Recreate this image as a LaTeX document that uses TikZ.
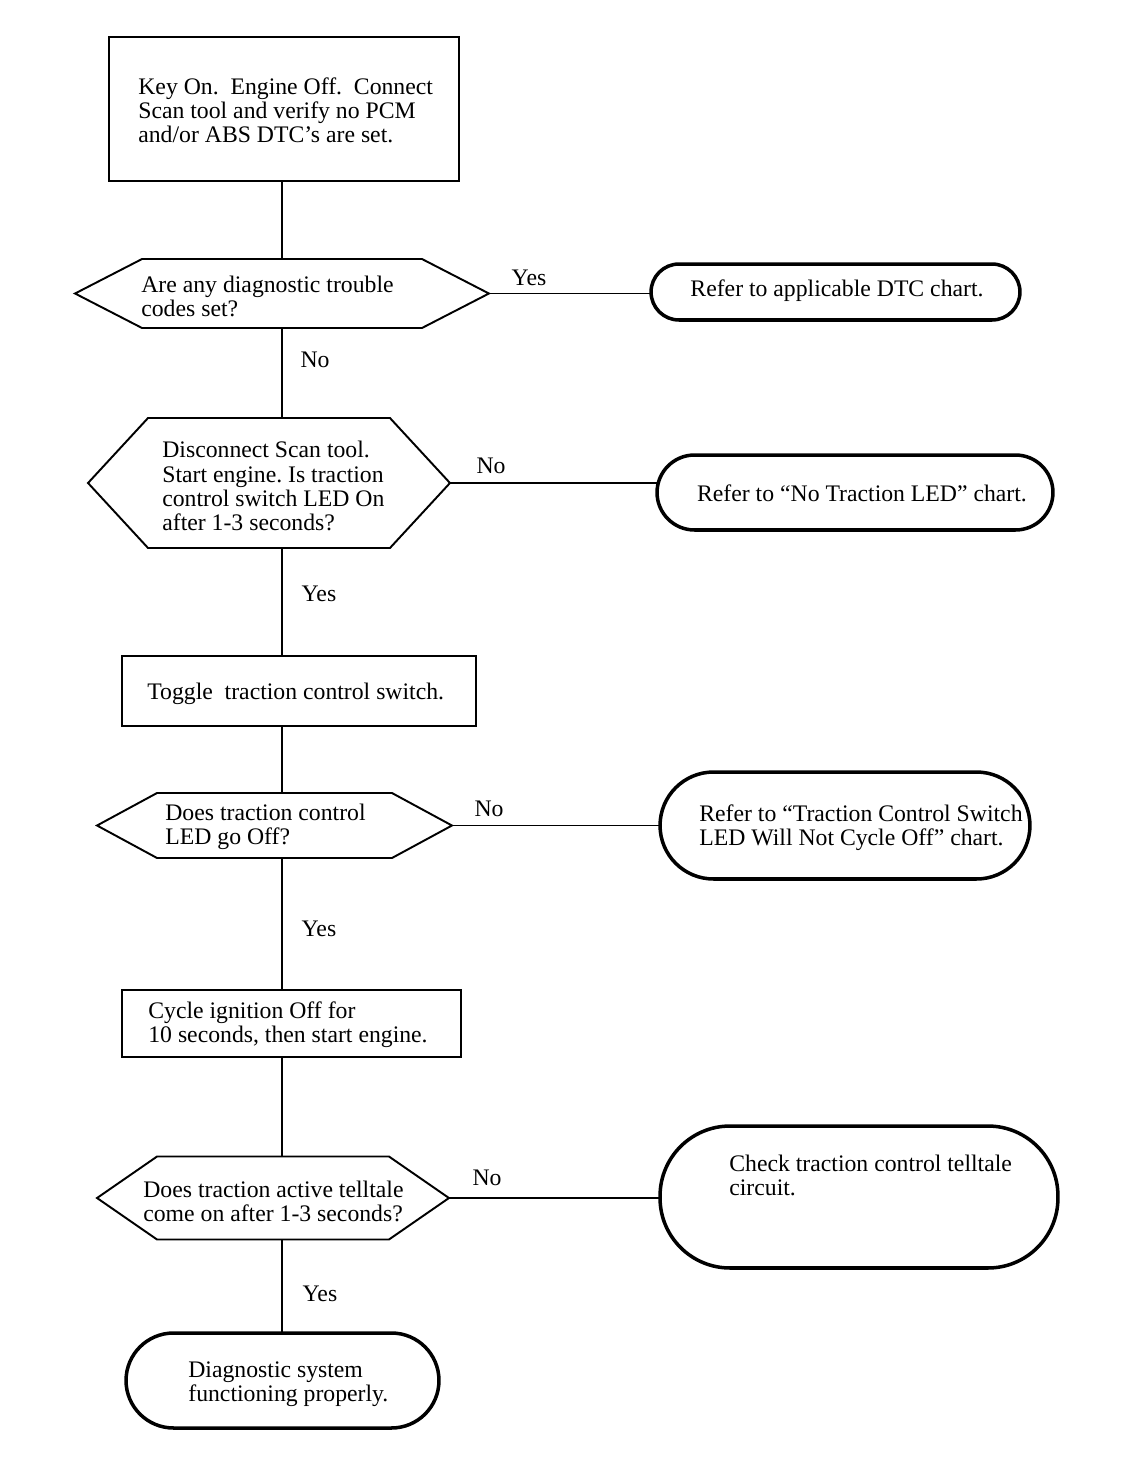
\documentclass[tikz,border=0pt]{standalone}
\usepackage{fontspec}
\setmainfont{Liberation Serif}
\newcommand\fs{\fontsize{13.5pt}{13.7pt}\selectfont\frenchspacing}
\newcommand\hexdraw[2]{\draw[hexline] ([xshift=#2]#1.north west) -- ([xshift=-#2]#1.north east) -- (#1.east) -- ([xshift=-#2]#1.south east) -- ([xshift=#2]#1.south west) -- (#1.west) -- cycle;}
\begin{document}
\begin{tikzpicture}[x=0.02cm,y=-0.02cm,
  proc/.style={draw, line width=1.2pt, inner sep=0pt, outer sep=0pt},
  term/.style={draw, line width=2pt, inner sep=0pt, outer sep=0pt},
  dec/.style={inner sep=0pt, outer sep=0pt},
  txt/.style={anchor=west, align=left, inner sep=0pt, font=\fs},
  ctxt/.style={align=center, inner sep=0pt, font=\fs},
  lbl/.style={inner sep=0pt, font=\fs},
  conn/.style={line width=0.9pt},
  hexline/.style={line width=1.1pt, line join=miter}]
\useasboundingbox (0,0) rectangle (1136,1458);
\coordinate (spine) at (282,0);

% process boxes
\node[proc, minimum width=7.00cm, minimum height=2.88cm] (b1) at (284,109) {};
\node[proc, minimum width=7.08cm, minimum height=1.40cm] (b2) at (299,691) {};
\node[proc, minimum width=6.78cm, minimum height=1.34cm] (b3) at (291.5,1023.5) {};

% decisions
\node[dec, minimum width=8.28cm, minimum height=1.38cm] (h1) at (282,293.5) {};
\node[dec, minimum width=7.24cm, minimum height=2.60cm] (h2) at (269,483) {};
\node[dec, minimum width=7.10cm, minimum height=1.30cm] (h3) at (274.5,825.5) {};
\node[dec, minimum width=7.04cm, minimum height=1.66cm] (h4) at (273,1198) {};
\hexdraw{h1}{1.34cm}
\hexdraw{h2}{1.20cm}
\hexdraw{h3}{1.20cm}
\hexdraw{h4}{1.20cm}

% terminals
\node[term, rounded corners=0.56cm, minimum width=7.38cm, minimum height=1.12cm] (t1) at (835.5,292) {};
\node[term, rounded corners=0.75cm, minimum width=7.92cm, minimum height=1.50cm] (t2) at (855,492.5) {};
\node[term, rounded corners=1.07cm, minimum width=7.40cm, minimum height=2.14cm] (t3) at (845,825.5) {};
\node[term, rounded corners=1.40cm, minimum width=7.96cm, minimum height=2.84cm] (t4) at (859,1197) {};
\node[term, rounded corners=0.95cm, minimum width=6.26cm, minimum height=1.90cm] (t5) at (282.5,1380.5) {};

% texts
\node[txt] (b1t) at (138,110) {Key On.\ \ Engine Off.\ \ Connect\\Scan tool and verify no PCM\\and/or ABS DTC's are set.};
\node[txt] (h1t) at (141,296) {Are any diagnostic trouble\\codes set?};
\node[ctxt] (t1t) at (837,291) {Refer to applicable DTC chart.};
\node[txt] (h2t) at (162,486) {Disconnect Scan tool.\\Start engine. Is traction\\control switch LED On\\after 1-3 seconds?};
\node[ctxt] (t2t) at (862,493) {Refer to “No Traction LED” chart.};
\node[txt] (b2t) at (147,694) {Toggle\ \ traction control switch.};
\node[txt] (h3t) at (165,827) {Does traction control\\LED go Off?};
\node[txt] (t3t) at (699,828) {Refer to “Traction Control Switch\\LED Will Not Cycle Off” chart.};
\node[txt] (b3t) at (148,1025) {Cycle ignition Off for\\10 seconds, then start engine.};
\node[txt] (h4t) at (143,1201) {Does traction active telltale\\come on after 1-3 seconds?};
\node[txt] (t4t) at (729,1175) {Check traction control telltale\\circuit.};
\node[txt] (t5t) at (188,1384) {Diagnostic system\\functioning properly.};

% connectors
\draw[conn] (b1.south -| spine) -- (h1.north -| spine);
\draw[conn] (h1.south -| spine) -- (h2.north -| spine);
\draw[conn] (h2.south -| spine) -- (b2.north -| spine);
\draw[conn] (b2.south -| spine) -- (h3.north -| spine);
\draw[conn] (h3.south -| spine) -- (b3.north -| spine);
\draw[conn] (b3.south -| spine) -- (h4.north -| spine);
\draw[conn] (h4.south -| spine) -- (t5.north -| spine);
\draw[conn] (h1.east) -- (h1.east -| t1.west);
\draw[conn] (h2.east) -- (h2.east -| t2.west);
\draw[conn] (h3.east) -- (h3.east -| t3.west);
\draw[conn] (h4.east) -- (h4.east -| t4.west);

% labels
\node[lbl] (l1) at (529,278) {Yes};
\node[lbl] (l2) at (315,360) {No};
\node[lbl] (l3) at (491,466) {No};
\node[lbl] (l4) at (319,594) {Yes};
\node[lbl] (l5) at (489,809) {No};
\node[lbl] (l6) at (319,929) {Yes};
\node[lbl] (l7) at (487,1178) {No};
\node[lbl] (l8) at (320,1294) {Yes};
\end{tikzpicture}
\end{document}
